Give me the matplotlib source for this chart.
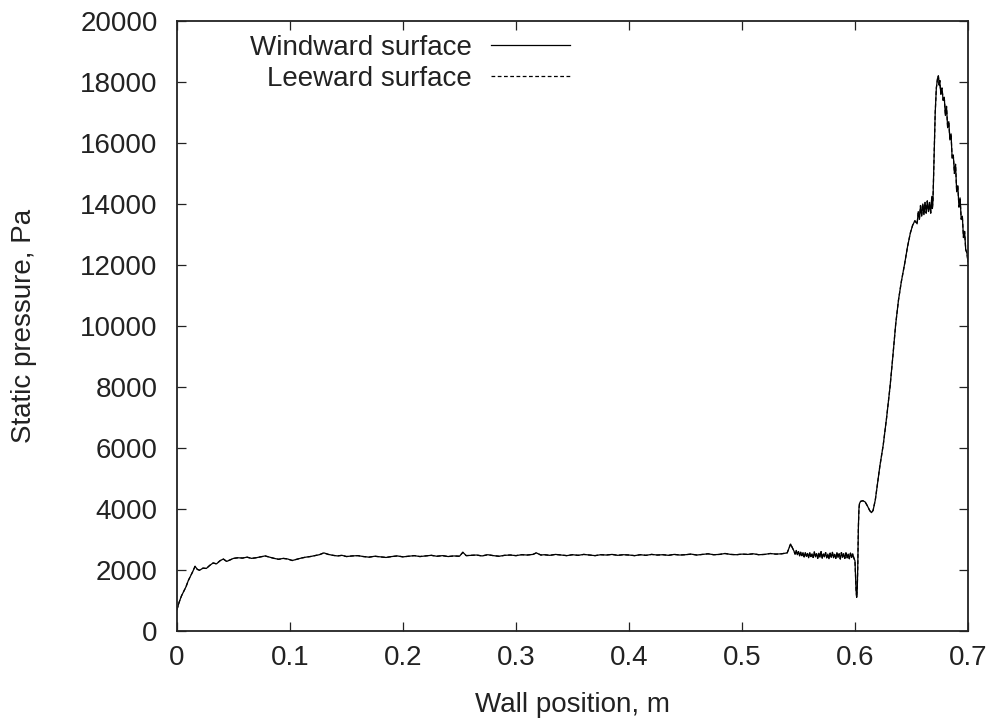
import numpy as np
import matplotlib.pyplot as plt

plt.rcParams['font.family'] = ['Liberation Sans', 'DejaVu Sans']

# wall position (m) and static pressure (Pa)
wall_x = [
    0.000, 0.002, 0.004, 0.006, 0.008, 0.010, 0.012, 0.014, 0.016, 0.018,
    0.020, 0.023, 0.026, 0.029, 0.032, 0.035, 0.038, 0.041, 0.044, 0.047,
    0.050, 0.054, 0.058, 0.062, 0.066, 0.070, 0.074, 0.078, 0.082, 0.086,
    0.090, 0.094, 0.098, 0.102, 0.106, 0.110, 0.114, 0.118, 0.122, 0.126,
    0.130, 0.134, 0.138, 0.142, 0.146, 0.150, 0.155,
    0.160, 0.165, 0.170, 0.175, 0.180, 0.185, 0.190, 0.195, 0.200, 0.205,
    0.210, 0.215, 0.220, 0.225, 0.230, 0.235, 0.240, 0.245, 0.250, 0.253,
    0.256, 0.260, 0.265, 0.270, 0.275, 0.280, 0.285, 0.290, 0.295, 0.300,
    0.305, 0.310, 0.315, 0.318, 0.322, 0.325, 0.330, 0.335, 0.340, 0.345,
    0.350, 0.355, 0.360, 0.365, 0.370, 0.375, 0.380, 0.385, 0.390, 0.395,
    0.400, 0.405, 0.410, 0.415, 0.420, 0.425, 0.430, 0.435, 0.440, 0.445,
    0.450, 0.455, 0.460, 0.465, 0.470, 0.475, 0.480, 0.485, 0.490, 0.495,
    0.500, 0.505, 0.510, 0.515, 0.520, 0.525, 0.530, 0.535, 0.540, 0.543,
    0.545,
    0.546, 0.547, 0.548, 0.549, 0.550, 0.551, 0.552, 0.553, 0.554, 0.555,
    0.556, 0.557, 0.558, 0.559, 0.560, 0.561, 0.562, 0.563, 0.564, 0.565,
    0.566, 0.567, 0.568, 0.569, 0.570, 0.571, 0.572, 0.573, 0.574, 0.575,
    0.576, 0.577, 0.578, 0.579, 0.580, 0.581, 0.582, 0.583, 0.584, 0.585,
    0.586, 0.587, 0.588, 0.589, 0.590, 0.591, 0.592, 0.593, 0.594, 0.595,
    0.596, 0.597, 0.598, 0.599,
    0.600, 0.6005, 0.601, 0.6015, 0.602, 0.6025, 0.603, 0.6035, 0.604, 0.605,
    0.607, 0.609, 0.611, 0.613, 0.6145, 0.616, 0.618, 0.620, 0.622, 0.625,
    0.628, 0.631, 0.6335, 0.636, 0.6385, 0.641, 0.644, 0.6465, 0.649, 0.651,
    0.653, 0.655, 0.656, 0.657, 0.658, 0.659, 0.660, 0.661, 0.662, 0.663,
    0.664, 0.665, 0.666, 0.667, 0.668, 0.6685, 0.669, 0.670, 0.671, 0.672,
    0.673, 0.6738, 0.6745, 0.675, 0.676, 0.677, 0.678, 0.679, 0.680, 0.681,
    0.682, 0.683, 0.684, 0.685, 0.686, 0.687, 0.688, 0.689, 0.690, 0.691,
    0.692, 0.693, 0.694, 0.695, 0.696, 0.697, 0.698, 0.699, 0.700,
]
windward_p = [
    700, 950, 1150, 1300, 1450, 1650, 1800, 1950, 2120, 2020,
    1990, 2060, 2050, 2150, 2230, 2200, 2300, 2360, 2280, 2330,
    2380, 2400, 2390, 2420, 2380, 2400, 2430, 2460, 2420, 2380,
    2350, 2380, 2360, 2310, 2350, 2390, 2420, 2440, 2470, 2500,
    2560, 2510, 2480, 2460, 2480, 2440, 2460,
    2470, 2440, 2420, 2450, 2430, 2410, 2440, 2460, 2430, 2450,
    2470, 2440, 2460, 2480, 2450, 2470, 2440, 2460, 2450, 2580,
    2470, 2480, 2490, 2460, 2500, 2470, 2450, 2480, 2490, 2470,
    2500, 2490, 2510, 2560, 2490, 2500, 2480, 2510, 2490, 2470,
    2500, 2480, 2510, 2490, 2470, 2500, 2490, 2510, 2480, 2500,
    2490, 2470, 2500, 2480, 2510, 2490, 2500, 2480, 2510, 2490,
    2500, 2520, 2490, 2510, 2530, 2500, 2510, 2540, 2510, 2500,
    2520, 2510, 2530, 2500, 2510, 2540, 2520, 2530, 2560, 2850,
    2700,
    2620, 2520, 2640, 2500, 2600, 2460, 2580, 2470, 2560, 2430,
    2570, 2450, 2540, 2400, 2560, 2440, 2520, 2410, 2590, 2430,
    2530, 2380, 2550, 2420, 2600, 2390, 2520, 2430, 2570, 2400,
    2520, 2370, 2550, 2420, 2580, 2400, 2510, 2380, 2560, 2410,
    2530, 2360, 2570, 2420, 2530, 2380, 2560, 2400, 2520, 2370,
    2550, 2410, 2530, 2390,
    2300, 1800, 1300, 1100, 1350, 2200, 3400, 4000, 4180, 4250,
    4270, 4230, 4100, 3950, 3880, 3950, 4300, 4850, 5400, 6100,
    7000, 8000, 9000, 10050, 10850, 11450, 12050, 12600, 13050, 13300,
    13450, 13350, 13750, 13500, 13950, 13600, 14000, 13650, 14050, 13700,
    14100, 13750, 14050, 13700, 14250, 13850, 14100, 15500, 17000, 17800,
    18100, 18200, 17900, 18050, 17600, 17800, 17400, 17500, 16900, 17200,
    16500, 16700, 16100, 16300, 15500, 15600, 15000, 15300, 14400, 14600,
    13900, 14200, 13500, 13600, 12900, 13100, 12500, 12400, 12100,
]
# the leeward curve lies on top of the windward one
leeward_p = list(windward_p)

labels = ['Windward surface', 'Leeward surface']
x_ticks = [0, 0.1, 0.2, 0.3, 0.4, 0.5, 0.6, 0.7]
x_ticklabels = ['0', '0.1', '0.2', '0.3', '0.4', '0.5', '0.6', '0.7']
y_ticks = np.arange(0, 20001, 2000)

fig = plt.figure(figsize=(9.97, 7.26), dpi=100)
ax = fig.add_axes([0.1775, 0.1309, 0.7934, 0.8402])

ax.plot(wall_x, windward_p, color='black', lw=0.9, label=labels[0])
ax.plot(wall_x, leeward_p, color='black', lw=0.9, ls=(0, (3, 2)), label=labels[1])

ax.set_xlim(0, 0.7)
ax.set_ylim(0, 20000)
ax.set_xticks(x_ticks)
ax.set_xticklabels(x_ticklabels)
ax.set_yticks(y_ticks)
ax.tick_params(direction='in', length=6.5, width=0.9, top=True, right=True,
               labelsize=20, colors='#222222')
ax.tick_params(axis='y', pad=14)
ax.tick_params(axis='x', pad=10)
for s in ax.spines.values():
    s.set_linewidth(1.3)
    s.set_color('#222222')

ax.set_xlabel('Wall position, m', fontsize=20, color='#222222', labelpad=15)
ax.set_ylabel('Static pressure, Pa', fontsize=20, color='#222222', labelpad=31)

leg = ax.legend(loc='upper right', bbox_to_anchor=(584 / 997, 1 - 21 / 726),
                bbox_transform=fig.transFigure, frameon=False, markerfirst=False,
                fontsize=20, handlelength=2.85, handletextpad=0.68,
                borderpad=0, labelspacing=0.19)
for t in leg.get_texts():
    t.set_color('#222222')

fig.savefig('out.png', dpi=100)
